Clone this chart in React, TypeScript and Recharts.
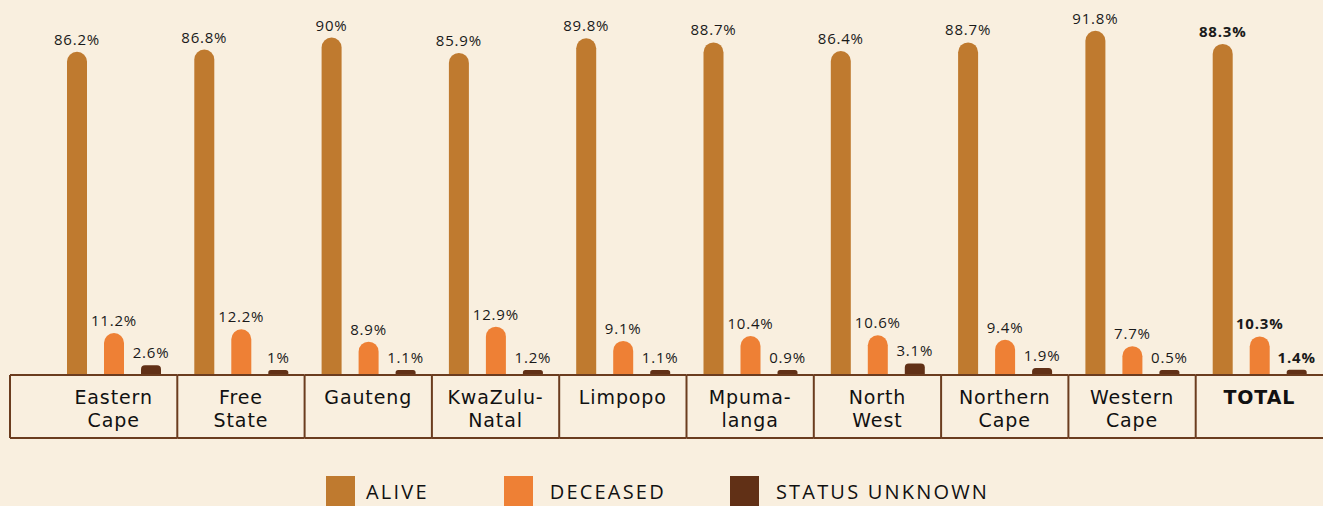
import React from "react";
import { BarChart, Bar, XAxis, YAxis, LabelList, Legend } from "recharts";

const categories = [
  "Eastern Cape",
  "Free State",
  "Gauteng",
  "KwaZulu-Natal",
  "Limpopo",
  "Mpumalanga",
  "North West",
  "Northern Cape",
  "Western Cape",
  "TOTAL",
];
const categoryLines = [
  ["Eastern", "Cape"],
  ["Free", "State"],
  ["Gauteng"],
  ["KwaZulu-", "Natal"],
  ["Limpopo"],
  ["Mpuma-", "langa"],
  ["North", "West"],
  ["Northern", "Cape"],
  ["Western", "Cape"],
  ["TOTAL"],
];
const alive = [86.2, 86.8, 90, 85.9, 89.8, 88.7, 86.4, 88.7, 91.8, 88.3];
const deceased = [11.2, 12.2, 8.9, 12.9, 9.1, 10.4, 10.6, 9.4, 7.7, 10.3];
const unknown = [2.6, 1, 1.1, 1.2, 1.1, 0.9, 3.1, 1.9, 0.5, 1.4];
const seriesNames = ["ALIVE", "DECEASED", "STATUS UNKNOWN"];

const data = categories.map((c, i) => ({
  category: c,
  alive: alive[i],
  deceased: deceased[i],
  unknown: unknown[i],
}));

const W = 1323;
const H = 506;
const MARGIN = { top: 0, right: 0, left: 50, bottom: 0 };
const BAND = (W - MARGIN.left - MARGIN.right) / categories.length;
const TABLE_LEFT = 10;
const TABLE_H = 63;
const BG = "#f9efdf";
const BORDER = "#6b3c1f";
const COLORS = ["#bf7a2f", "#ee8035", "#613016"];
const FONT = "'Open Sans', 'DejaVu Sans', sans-serif";
const CAT_FONT = "'DejaVu Sans', sans-serif";
const LEGEND_PAD = 326;
const LEGEND_TEXT_GAP = [11, 17, 17];
const LEGEND_ITEM_GAP = [75, 64, 0];

const CategoryTick = (props: any) => {
  const { x, y, payload } = props;
  const idx = categories.indexOf(payload.value);
  const left = idx === 0 ? TABLE_LEFT : x - BAND / 2;
  const right = x + BAND / 2;
  const lines = categoryLines[idx] || [payload.value];
  const isTotal = payload.value === "TOTAL";
  return (
    <g>
      <line x1={left} x2={right} y1={y} y2={y} stroke={BORDER} strokeWidth={2} />
      <line x1={left} x2={right} y1={y + TABLE_H} y2={y + TABLE_H} stroke={BORDER} strokeWidth={2} />
      <line x1={left} x2={left} y1={y} y2={y + TABLE_H} stroke={BORDER} strokeWidth={2} />
      <text
        x={x}
        y={y + 29}
        textAnchor="middle"
        fontFamily={CAT_FONT}
        fontSize={19}
        letterSpacing={0.9}
        fontWeight={isTotal ? 700 : 400}
        fill="#111"
      >
        {lines.map((t, k) => (
          <tspan key={k} x={x} dy={k === 0 ? 0 : 22.5}>
            {t}
          </tspan>
        ))}
      </text>
    </g>
  );
};

const makeLabel = (radiusKey: string) => (props: any) => {
  const { x, y, width, value, index } = props;
  const isTotal = categories[index] === "TOTAL";
  return (
    <text
      x={x + width / 2}
      y={y - 7}
      textAnchor="middle"
      fontFamily={FONT}
      fontSize={15}
      letterSpacing={0.8}
      fontWeight={isTotal ? 700 : 400}
      fill="#1a1a1a"
      key={radiusKey + index}
    >
      {`${value}%`}
    </text>
  );
};

const LegendContent = () => (
  <div
    style={{
      height: 68,
      paddingTop: 38,
      paddingLeft: LEGEND_PAD,
      marginLeft: -MARGIN.left,
      boxSizing: "border-box",
      display: "flex",
      justifyContent: "flex-start",
      fontFamily: FONT,
      fontSize: 20,
      letterSpacing: 2.2,
      color: "#111",
    }}
  >
    {seriesNames.map((n, i) => (
      <div key={n} style={{ display: "flex", alignItems: "flex-start", marginRight: LEGEND_ITEM_GAP[i] }}>
        <div style={{ width: 29, height: 30, background: COLORS[i], marginRight: LEGEND_TEXT_GAP[i] }} />
        <span style={{ lineHeight: "32px", whiteSpace: "nowrap" }}>{n}</span>
      </div>
    ))}
  </div>
);

export default function App() {
  return (
    <div
      style={{
        position: "absolute",
        left: 0,
        top: 0,
        width: W,
        height: H,
        background: BG,
        overflow: "hidden",
      }}
    >
      <BarChart
        width={W}
        height={H}
        data={data}
        margin={MARGIN}
        barSize={20}
        barGap={17}
      >
        <XAxis
          dataKey="category"
          height={TABLE_H}
          axisLine={false}
          tickLine={false}
          tickSize={0}
          tickMargin={0}
          interval={0}
          tick={<CategoryTick />}
        />
        <YAxis hide domain={[0, 100]} />
        <Legend verticalAlign="bottom" content={<LegendContent />} />
        <Bar dataKey="alive" name="ALIVE" fill={COLORS[0]} radius={[10, 10, 0, 0]} isAnimationActive={false}>
          <LabelList dataKey="alive" content={makeLabel("a")} />
        </Bar>
        <Bar dataKey="deceased" name="DECEASED" fill={COLORS[1]} radius={[10, 10, 0, 0]} isAnimationActive={false}>
          <LabelList dataKey="deceased" content={makeLabel("d")} />
        </Bar>
        <Bar
          dataKey="unknown"
          name="STATUS UNKNOWN"
          fill={COLORS[2]}
          radius={[4, 4, 0, 0]}
          minPointSize={5}
          isAnimationActive={false}
        >
          <LabelList dataKey="unknown" content={makeLabel("u")} />
        </Bar>
      </BarChart>
    </div>
  );
}
